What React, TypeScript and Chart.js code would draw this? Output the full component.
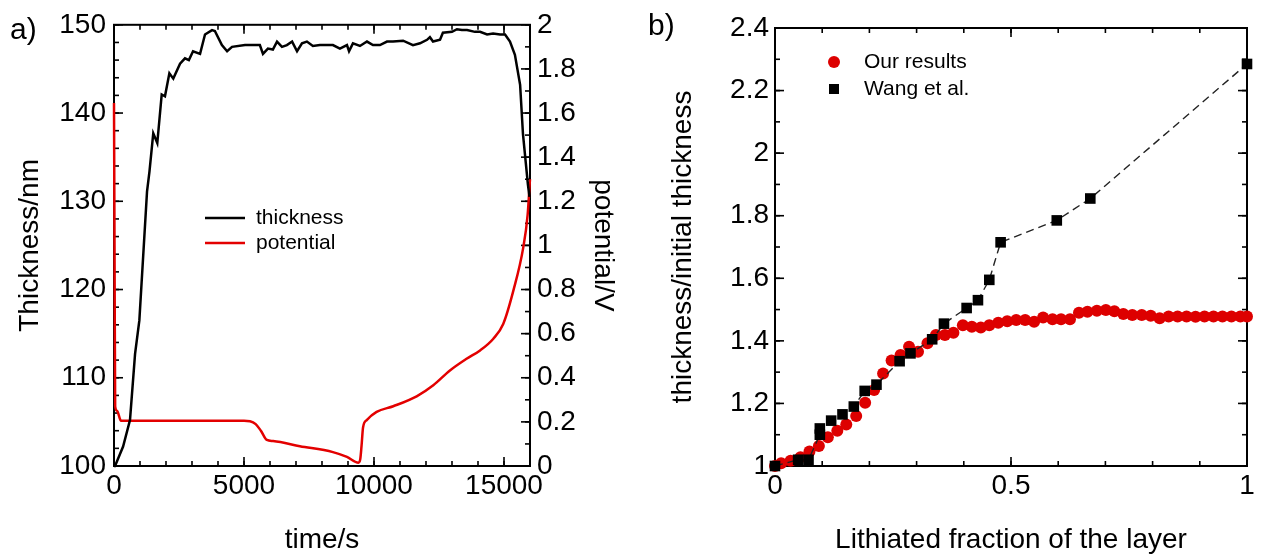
import { useEffect, useRef } from "react";
import { Chart, registerables } from "chart.js";

Chart.register(...registerables);

const FONT = "'Liberation Sans', Arial, Helvetica, sans-serif";

// ---------- Panel a) ----------
const THICK_T = [0, 40, 350, 615, 810, 975, 1270, 1365, 1510, 1665, 1835, 1960, 2130, 2280, 2540, 2730, 2880, 3040, 3310, 3500, 3770, 3880, 4150, 4350, 4540, 5040, 5610, 5730, 5920, 6110, 6270, 6460, 6650, 6850, 7040, 7230, 7420, 7650, 7920, 8420, 8690, 8960, 9040, 9190, 9460, 9730, 9960, 10230, 10500, 10730, 11120, 11500, 11770, 12040, 12150, 12270, 12540, 12650, 13000, 13190, 13380, 13580, 13880, 14080, 14350, 14580, 14850, 15040, 15230, 15420, 15620, 15730, 15920, 15980];
const THICK_NM = [100, 100, 102.2, 105.2, 112.7, 116.5, 131.1, 133.4, 137.7, 136.6, 142.1, 141.9, 144.5, 143.9, 145.6, 146.2, 146.0, 147.0, 146.7, 148.9, 149.4, 149.3, 147.7, 147.0, 147.5, 147.7, 147.7, 146.7, 147.3, 147.2, 148.1, 147.5, 147.7, 148.1, 147.0, 147.9, 148.1, 147.6, 147.7, 147.7, 147.3, 147.7, 147.0, 147.9, 147.6, 148.1, 147.7, 147.7, 148.1, 148.1, 148.2, 147.7, 147.9, 148.3, 148.6, 148.1, 148.3, 149.1, 149.2, 149.5, 149.4, 149.4, 149.2, 149.2, 148.9, 149.0, 148.9, 148.9, 148.1, 146.6, 143.2, 137.6, 131.9, 130.5];

const POT_T = [0, 20, 45, 115, 270, 1000, 2000, 3000, 4000, 5000, 5230, 5450, 5650, 5880, 6120, 7150, 8420, 8960, 9400, 9470, 9520, 9580, 9720, 10100, 10740, 11640, 12280, 12920, 13560, 14080, 14590, 14970, 15360, 15740, 15910, 16000];
const POT_V = [1.645, 1.0, 0.27, 0.25, 0.205, 0.205, 0.205, 0.205, 0.205, 0.205, 0.203, 0.19, 0.16, 0.118, 0.113, 0.09, 0.063, 0.041, 0.015, 0.03, 0.09, 0.176, 0.208, 0.245, 0.271, 0.316, 0.366, 0.433, 0.486, 0.524, 0.577, 0.644, 0.795, 0.99, 1.14, 1.3];

const TIME_TICKS = [0, 5000, 10000, 15000];
const TIME_TICK_LABELS = ["0", "5000", "10000", "15000"];
const THICK_TICKS = [100, 110, 120, 130, 140, 150];
const THICK_TICK_LABELS = ["100", "110", "120", "130", "140", "150"];
const POT_TICKS = [0, 0.2, 0.4, 0.6, 0.8, 1, 1.2, 1.4, 1.6, 1.8, 2];
const POT_TICK_LABELS = ["0", "0.2", "0.4", "0.6", "0.8", "1", "1.2", "1.4", "1.6", "1.8", "2"];

// ---------- Panel b) ----------
const OUR_F = [0, 0.013, 0.033, 0.054, 0.073, 0.093, 0.112, 0.132, 0.151, 0.172, 0.191, 0.21, 0.229, 0.247, 0.266, 0.284, 0.303, 0.323, 0.341, 0.36, 0.378, 0.398, 0.417, 0.436, 0.454, 0.473, 0.492, 0.511, 0.53, 0.549, 0.568, 0.588, 0.606, 0.625, 0.644, 0.662, 0.682, 0.701, 0.719, 0.738, 0.757, 0.777, 0.796, 0.815, 0.834, 0.853, 0.872, 0.891, 0.91, 0.929, 0.948, 0.967, 0.986, 1.0];
const OUR_RATIO = [1.0, 1.009, 1.017, 1.028, 1.046, 1.064, 1.092, 1.113, 1.133, 1.16, 1.202, 1.243, 1.296, 1.337, 1.355, 1.381, 1.365, 1.392, 1.419, 1.419, 1.426, 1.45, 1.445, 1.443, 1.45, 1.458, 1.463, 1.467, 1.467, 1.461, 1.475, 1.469, 1.469, 1.469, 1.49, 1.493, 1.496, 1.499, 1.495, 1.486, 1.483, 1.483, 1.48, 1.472, 1.478, 1.478, 1.478, 1.477, 1.478, 1.478, 1.478, 1.478, 1.478, 1.478];

const WANG_F = [0, 0.049, 0.071, 0.095, 0.095, 0.119, 0.143, 0.167, 0.19, 0.215, 0.264, 0.287, 0.333, 0.358, 0.406, 0.43, 0.454, 0.478, 0.597, 0.668, 1.0];
const WANG_RATIO = [1.0, 1.02, 1.02, 1.1, 1.12, 1.145, 1.165, 1.19, 1.24, 1.26, 1.335, 1.36, 1.405, 1.455, 1.505, 1.53, 1.595, 1.715, 1.785, 1.855, 2.285];

const FRAC_TICKS = [0, 0.5, 1];
const FRAC_TICK_LABELS = ["0", "0.5", "1"];
const RATIO_TICKS = [1, 1.2, 1.4, 1.6, 1.8, 2, 2.2, 2.4];
const RATIO_TICK_LABELS = ["1", "1.2", "1.4", "1.6", "1.8", "2", "2.2", "2.4"];

const RED_LINE = "#e30000";
const RED_DOT = "#dd0000";

function steps(a: number, b: number, step: number): number[] {
  const out: number[] = [];
  for (let i = 0; a + i * step <= b + 1e-9; i++) out.push(+(a + i * step).toFixed(6));
  return out;
}

type Side = { scale: string; side: "left" | "right" | "top" | "bottom"; major: number[]; minor: number[] };

function framePlugin(id: string, sides: Side[]) {
  return {
    id,
    beforeDatasetsDraw(chart: any) {
      const { ctx, chartArea: a } = chart;
      ctx.save();
      ctx.strokeStyle = "#000";
      ctx.lineWidth = 2;
      ctx.strokeRect(a.left, a.top, a.right - a.left, a.bottom - a.top);
      ctx.lineWidth = 1.6;
      for (const s of sides) {
        const sc = chart.scales[s.scale];
        const draw = (v: number, len: number) => {
          const p = sc.getPixelForValue(v);
          ctx.beginPath();
          if (s.side === "left") { ctx.moveTo(a.left, p); ctx.lineTo(a.left + len, p); }
          if (s.side === "right") { ctx.moveTo(a.right, p); ctx.lineTo(a.right - len, p); }
          if (s.side === "bottom") { ctx.moveTo(p, a.bottom); ctx.lineTo(p, a.bottom - len); }
          if (s.side === "top") { ctx.moveTo(p, a.top); ctx.lineTo(p, a.top + len); }
          ctx.stroke();
        };
        s.minor.forEach((v) => draw(v, 5));
        s.major.forEach((v) => draw(v, 9));
      }
      ctx.restore();
    },
  };
}

function tickFont() {
  return { family: FONT, size: 28 };
}

function fixedTicks(values: number[]) {
  return (s: any) => {
    s.ticks = values.map((v) => ({ value: v }));
  };
}

function axisBase(values: number[], labels: string[], pad: number) {
  return {
    type: "linear" as const,
    grid: { display: false, drawTicks: false },
    border: { display: false },
    afterBuildTicks: fixedTicks(values),
    ticks: {
      padding: pad,
      font: tickFont(),
      color: "#000",
      autoSkip: false,
      maxRotation: 0,
      callback: (_v: any, i: number) => labels[i],
    },
  };
}

function PanelA() {
  const ref = useRef<HTMLCanvasElement>(null);
  useEffect(() => {
    const legend = {
      id: "legendA",
      afterDraw(chart: any) {
        const ctx = chart.ctx;
        ctx.save();
        ctx.font = `21px ${FONT}`;
        ctx.textBaseline = "middle";
        ctx.fillStyle = "#000";
        const rows: [string, string, number][] = [["thickness", "#000", 218], ["potential", RED_LINE, 243]];
        for (const [t, c, y] of rows) {
          ctx.strokeStyle = c;
          ctx.lineWidth = 2.5;
          ctx.beginPath();
          ctx.moveTo(205, y);
          ctx.lineTo(245, y);
          ctx.stroke();
          ctx.fillText(t, 256, y);
        }
        ctx.font = `30px ${FONT}`;
        ctx.fillText("a)", 10, 31);
        ctx.restore();
      },
    };
    const chart = new Chart(ref.current!, {
      type: "scatter",
      data: {
        datasets: [
          {
            label: "thickness",
            data: THICK_T.map((t, i) => ({ x: t, y: THICK_NM[i] })),
            yAxisID: "y",
            showLine: true,
            borderColor: "#000",
            borderWidth: 2.5,
            pointRadius: 0,
            clip: 6,
          },
          {
            label: "potential",
            data: POT_T.map((t, i) => ({ x: t, y: POT_V[i] })),
            yAxisID: "y1",
            showLine: true,
            borderColor: RED_LINE,
            borderWidth: 2.5,
            pointRadius: 0,
            cubicInterpolationMode: "monotone",
            clip: 6,
          },
        ],
      } as any,
      options: {
        responsive: false,
        animation: false,
        devicePixelRatio: 1,
        layout: { padding: { top: 23, left: 0, right: 0, bottom: 0 } },
        plugins: { legend: { display: false }, tooltip: { enabled: false } },
        scales: {
          x: {
            ...axisBase(TIME_TICKS, TIME_TICK_LABELS, 3),
            position: "bottom",
            min: 0,
            max: 16000,
            afterFit: (s: any) => { s.height = 94; },
            title: { display: true, text: "time/s", color: "#000", font: tickFont(), padding: { top: 0, bottom: 3 } },
          },
          y: {
            ...axisBase(THICK_TICKS, THICK_TICK_LABELS, 8),
            position: "left",
            min: 100,
            max: 150,
            afterFit: (s: any) => { s.width = 114; },
            title: { display: true, text: "Thickness/nm", color: "#000", font: tickFont(), padding: { top: 13, bottom: 0 } },
          },
          y1: {
            ...axisBase(POT_TICKS, POT_TICK_LABELS, 7),
            position: "right",
            min: 0,
            max: 2,
            afterFit: (s: any) => { s.width = 110; },
            title: { display: true, text: "potential/V", color: "#000", font: tickFont(), padding: { top: 20, bottom: 0 } },
          },
        },
      } as any,
      plugins: [
        framePlugin("frameA", [
          { scale: "x", side: "bottom", major: TIME_TICKS, minor: steps(0, 16000, 1000) },
          { scale: "x", side: "top", major: TIME_TICKS, minor: steps(0, 16000, 1000) },
          { scale: "y", side: "left", major: THICK_TICKS, minor: steps(100, 150, 2) },
          { scale: "y1", side: "right", major: POT_TICKS, minor: steps(0, 2, 0.1) },
        ]),
        legend,
      ],
    });
    return () => chart.destroy();
  }, []);
  return <canvas ref={ref} width={640} height={560} style={{ position: "absolute", left: 0, top: 0 }} />;
}

function PanelB() {
  const ref = useRef<HTMLCanvasElement>(null);
  useEffect(() => {
    const legend = {
      id: "legendB",
      afterDraw(chart: any) {
        const ctx = chart.ctx;
        ctx.save();
        ctx.font = `21px ${FONT}`;
        ctx.textBaseline = "middle";
        ctx.fillStyle = RED_DOT;
        ctx.beginPath();
        ctx.arc(194, 62, 6, 0, Math.PI * 2);
        ctx.fill();
        ctx.fillStyle = "#000";
        ctx.fillRect(194 - 5, 89 - 5, 10, 10);
        ctx.fillText("Our results", 224, 62);
        ctx.fillText("Wang et al.", 224, 89);
        ctx.font = `30px ${FONT}`;
        ctx.fillText("b)", 8, 27);
        ctx.restore();
      },
    };
    const chart = new Chart(ref.current!, {
      type: "scatter",
      data: {
        datasets: [
          {
            label: "Wang et al.",
            data: WANG_F.map((f, i) => ({ x: f, y: WANG_RATIO[i] })),
            showLine: true,
            borderColor: "#222",
            borderWidth: 1.4,
            borderDash: [8, 5],
            pointStyle: "rect",
            pointRadius: 7.5,
            pointBackgroundColor: "#000",
            pointBorderWidth: 0,
            clip: 12,
          },
          {
            label: "Our results",
            data: OUR_F.map((f, i) => ({ x: f, y: OUR_RATIO[i] })),
            showLine: false,
            pointStyle: "circle",
            pointRadius: 6,
            pointBackgroundColor: RED_DOT,
            pointBorderWidth: 0,
            clip: 12,
          },
        ],
      } as any,
      options: {
        responsive: false,
        animation: false,
        devicePixelRatio: 1,
        layout: { padding: { top: 28, left: 0, right: 14, bottom: 0 } },
        plugins: { legend: { display: false }, tooltip: { enabled: false } },
        scales: {
          x: {
            ...axisBase(FRAC_TICKS, FRAC_TICK_LABELS, 3),
            position: "bottom",
            min: 0,
            max: 1,
            afterFit: (s: any) => { s.height = 94; },
            title: { display: true, text: "Lithiated fraction of the layer", color: "#000", font: tickFont(), padding: { top: 0, bottom: 3 } },
          },
          y: {
            ...axisBase(RATIO_TICKS, RATIO_TICK_LABELS, 6),
            position: "left",
            min: 1,
            max: 2.4,
            afterFit: (s: any) => { s.width = 135; },
            title: { display: true, text: "thickness/initial thickness", color: "#000", font: tickFont(), padding: { top: 26, bottom: 0 } },
          },
        },
      } as any,
      plugins: [
        framePlugin("frameB", [
          { scale: "x", side: "bottom", major: FRAC_TICKS, minor: steps(0, 1, 0.1) },
          { scale: "x", side: "top", major: FRAC_TICKS, minor: steps(0, 1, 0.1) },
          { scale: "y", side: "left", major: RATIO_TICKS, minor: steps(1, 2.4, 0.1) },
          { scale: "y", side: "right", major: RATIO_TICKS, minor: steps(1, 2.4, 0.1) },
        ]),
        legend,
      ],
    });
    return () => chart.destroy();
  }, []);
  return <canvas ref={ref} width={621} height={560} style={{ position: "absolute", left: 640, top: 0 }} />;
}

export default function App() {
  return (
    <div style={{ position: "absolute", left: 0, top: 0, width: 1261, height: 560, background: "#fff" }}>
      <PanelA />
      <PanelB />
    </div>
  );
}
